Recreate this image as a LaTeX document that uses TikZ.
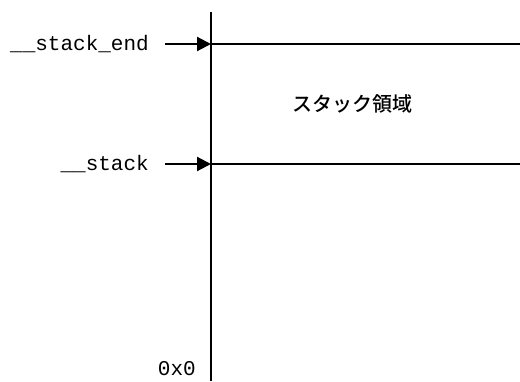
\documentclass[tikz,border=0pt]{standalone}
\usepackage{fontspec}
\setmonofont{Liberation Mono}
\newfontfamily\cjk{Noto Sans CJK JP Medium}
\usetikzlibrary{arrows.meta}
\tikzset{
  axis/.style={line width=2.2pt},
  ptr/.style={line width=2.2pt,-{Triangle[length=14pt,width=14pt]}},
  lbl/.style={font=\ttfamily\fontsize{21}{23}\selectfont, anchor=east, inner sep=0pt},
}
\begin{document}
\begin{tikzpicture}[x=1pt,y=-1pt]
\useasboundingbox (0,0) rectangle (520,381);
\coordinate (top) at (211,12);
\coordinate (bot) at (211,381);
\draw[axis] (top) -- (bot);
\coordinate (endl) at (211,44);
\coordinate (endr) at (520,44);
\coordinate (stl) at (211,164);
\coordinate (str) at (520,164);
\draw[axis] (endl) -- (endr);
\draw[axis] (stl) -- (str);
\node[lbl] (lend) at (149,44) {\_\_stack\_end};
\node[lbl] (lst) at (149,164) {\_\_stack};
\coordinate (aend) at (165,44);
\coordinate (ast) at (165,164);
\draw[ptr] (aend) -- (endl);
\draw[ptr] (ast) -- (stl);
\node[font=\cjk\fontsize{20}{22}\selectfont] (area) at (352,104) {スタック領域};
\node[lbl] (zero) at (196,369) {0x0};
\end{tikzpicture}
\end{document}
